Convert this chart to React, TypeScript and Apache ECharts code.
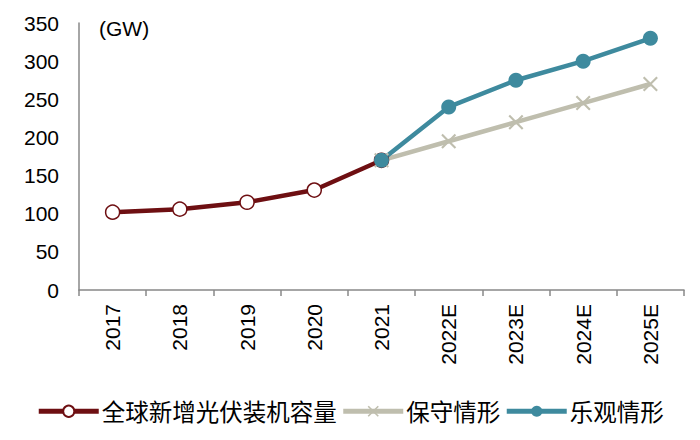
import React, { useEffect, useRef } from "react";
import * as echarts from "echarts";

const years = ["2017", "2018", "2019", "2020", "2021", "2022E", "2023E", "2024E", "2025E"];
const actualValues = [102, 106, 115, 131, 170, null, null, null, null];
const conservativeValues = [null, null, null, null, 170, 195, 220, 245, 270];
const optimisticValues = [null, null, null, null, 170, 240, 275, 300, 330];
const seriesNames = ["全球新增光伏装机容量", "保守情形", "乐观情形"];

const FONT = "'Liberation Sans', Arial, 'Noto Sans CJK SC', sans-serif";
// thin "x" cross, filled polygons
const CROSS = "path://M0,1L1,0L10,9L9,10Z M9,0L10,1L1,10L0,9Z";

const App: React.FC = () => {
  const chartRef = useRef<HTMLDivElement>(null);

  useEffect(() => {
    if (!chartRef.current) return;
    const chart = echarts.init(chartRef.current, undefined, { renderer: "svg" });

    chart.setOption({
      animation: false,
      textStyle: { fontFamily: FONT },
      grid: { left: 79, right: 16, top: 23, bottom: 150 },
      graphic: [
        {
          type: "text",
          left: 99,
          top: 18,
          style: { text: "(GW)", fontSize: 21, fill: "#000", fontFamily: FONT },
        },
      ],
      legend: {
        bottom: 12,
        left: "center",
        itemWidth: 60,
        itemHeight: 14,
        itemGap: 4,
        lineStyle: { width: 5 },
        textStyle: { fontSize: 23.5, color: "#000", fontFamily: "'Noto Sans CJK SC', sans-serif", padding: [0, 0, 0, -2] },
        data: seriesNames,
      },
      xAxis: {
        type: "category",
        data: years,
        axisLine: { lineStyle: { color: "#888", width: 1.5 } },
        axisTick: { show: true, length: 6, lineStyle: { color: "#888", width: 1.5 } },
        axisLabel: { rotate: 90, fontSize: 21, color: "#000", margin: 14, fontFamily: FONT },
      },
      yAxis: {
        type: "value",
        min: 0,
        max: 350,
        interval: 50,
        splitLine: { show: false },
        axisLine: { show: true, lineStyle: { color: "#888", width: 1.5 } },
        axisTick: { show: false },
        axisLabel: { fontSize: 21, color: "#000", margin: 20, fontFamily: FONT },
      },
      series: [
        {
          name: seriesNames[0],
          type: "line",
          data: actualValues,
          symbol: "circle",
          symbolSize: 14,
          lineStyle: { color: "#6e0f12", width: 4.5 },
          itemStyle: { color: "#fff", borderColor: "#6e0f12", borderWidth: 1.5 },
        },
        {
          name: seriesNames[1],
          type: "line",
          data: conservativeValues,
          symbol: CROSS,
          symbolSize: 15,
          lineStyle: { color: "#bfbeae", width: 4.5 },
          itemStyle: { color: "#bfbeae" },
        },
        {
          name: seriesNames[2],
          type: "line",
          data: optimisticValues,
          symbol: "circle",
          symbolSize: 15,
          lineStyle: { color: "#3e8a9e", width: 4.5 },
          itemStyle: { color: "#3e8a9e" },
        },
      ],
    });

    return () => {
      chart.dispose();
    };
  }, []);

  return <div ref={chartRef} style={{ width: 700, height: 440, margin: -8 }} />;
};

export default App;
